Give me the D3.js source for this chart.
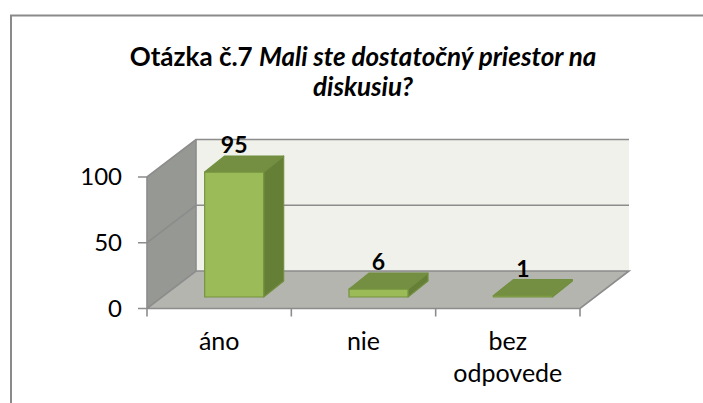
<!DOCTYPE html>
<html>
<head>
<meta charset="utf-8">
<script src="https://cdn.jsdelivr.net/npm/d3@7"></script>
<style>
html,body{margin:0;padding:0;background:#fff;}
svg{display:block;}
text{font-family:Lato,"Open Sans",sans-serif;fill:#000;}
</style>
</head>
<body>
<svg id="c" width="703" height="403"></svg>
<script>
const categories = ["áno", "nie", ["bez", "odpovede"]];
const values = [95, 6, 1];
const yTicks = [0, 50, 100];
const titleLines = [
  [["Otázka č.7 ", "normal"], ["Mali ste dostatočný priestor na", "italic"]],
  [["diskusiu?", "italic"]]
];

const svg = d3.select("#c");
const x = d3.scaleBand().domain(d3.range(categories.length)).range([147, 580]);
const y = d3.scaleLinear().domain([0, 100]).range([308.5, 177]);
const depth = { dx: 49, dy: -37.5 };
const barW = 59, bar = { dx: 20, dy: -16, zx: 15, zy: -11.5 };
const poly = (pts, fill, stroke) => svg.append("path")
  .attr("d", "M" + pts.map(p => p.join(",")).join("L") + "Z")
  .attr("fill", fill).attr("stroke", stroke || "none").attr("stroke-width", 1.2).attr("stroke-linejoin", "round");

// outer frame
svg.append("path").attr("d", "M11,403V15.5H703").attr("fill", "none").attr("stroke", "#8a8a8a").attr("stroke-width", 2);

const [x0, x1] = x.range(), y0 = y(0), yT = y(100);
const grey = "#8c8c8c";
// walls
poly([[x0 + depth.dx, y0 + depth.dy], [x1 + depth.dx, y0 + depth.dy], [x1 + depth.dx, yT + depth.dy], [x0 + depth.dx, yT + depth.dy]], "#eff1ea");
poly([[x0, y0], [x0 + depth.dx, y0 + depth.dy], [x1 + depth.dx, y0 + depth.dy], [x1, y0]], "#b3b5ae");
poly([[x0, y0], [x0 + depth.dx, y0 + depth.dy], [x0 + depth.dx, yT + depth.dy], [x0, yT]], "#969893");

// gridlines
yTicks.forEach(t => {
  svg.append("path").attr("fill", "none").attr("stroke", grey).attr("stroke-width", 1.6)
    .attr("d", `M${x0 - 9},${y(t)}H${x0}L${x0 + depth.dx},${y(t) + depth.dy}H${x1 + depth.dx}` + (t === 0 ? `L${x1},${y0}H${x0}` : ""));
});
svg.append("path").attr("fill", "none").attr("stroke", grey).attr("stroke-width", 1.6)
  .attr("d", `M${x0},${yT}V${y0}M${x0 + depth.dx},${yT + depth.dy}V${y0 + depth.dy}`);

// category ticks
x.domain().concat([categories.length]).forEach(i => {
  const px = i < categories.length ? x(i) : x1;
  svg.append("line").attr("x1", px).attr("x2", px).attr("y1", y0).attr("y2", y0 + 8).attr("stroke", grey).attr("stroke-width", 1.6);
});

// bars
values.forEach((v, i) => {
  const l = x(i) + x.bandwidth() / 2 + bar.zx - barW / 2, r = l + barW;
  const b = y0 + bar.zy, t = b - (y0 - y(v));
  poly([[r, b], [r + bar.dx, b + bar.dy], [r + bar.dx, t + bar.dy], [r, t]], "#667f37", "#728f40");
  poly([[l, t], [l + bar.dx, t + bar.dy], [r + bar.dx, t + bar.dy], [r, t]], "#758f42", "#728f40");
  poly([[l, b], [r, b], [r, t], [l, t]], "#9bbb59", "#76933f");
  svg.append("text").attr("x", (l + r) / 2).attr("y", t + bar.dy - 3).attr("text-anchor", "middle")
    .attr("font-size", 23).attr("font-weight", 700).text(v);
});

// y tick labels
yTicks.forEach(t => svg.append("text").attr("x", 122).attr("y", y(t) + 8).attr("text-anchor", "end").attr("font-size", 24).text(t));

// category labels
categories.forEach((c, i) => {
  const lines = Array.isArray(c) ? c : [c];
  lines.forEach((s, j) => svg.append("text").attr("x", x(i) + x.bandwidth() / 2).attr("y", 350 + j * 31.5)
    .attr("text-anchor", "middle").attr("font-size", 25).text(s));
});

// title
titleLines.forEach((ln, j) => {
  const t = svg.append("text").attr("x", 363).attr("y", 66 + j * 30).attr("text-anchor", "middle")
    .attr("font-size", 26).attr("font-weight", 700);
  ln.forEach(([s, st]) => t.append("tspan").attr("font-style", st).text(s));
});
</script>
</body>
</html>
